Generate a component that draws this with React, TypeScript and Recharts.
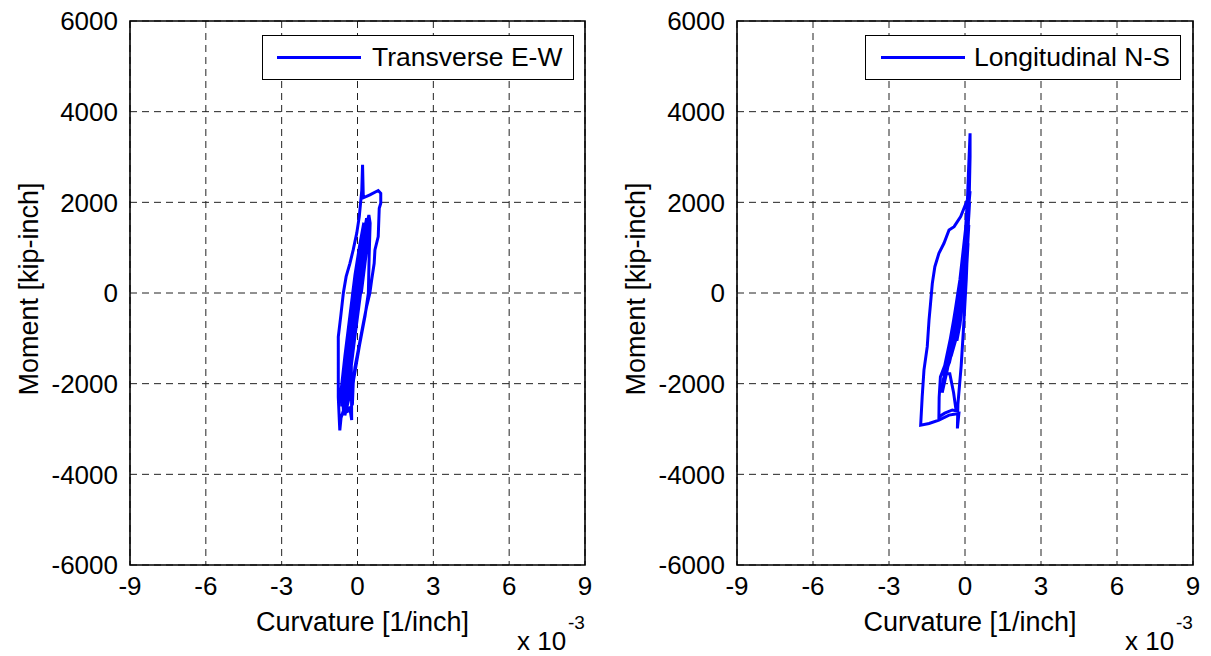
import {
  LineChart,
  Line,
  XAxis,
  YAxis,
  CartesianGrid,
  ReferenceArea,
  Legend,
} from "recharts";

// curvature values are in units of 1e-3 [1/inch]; moment in kip-inch
const transCurv = [
  0, 0.1, 0.18, 0.08, -0.12, -0.25, -0.12, 0.05, 0.22, 0.32, 0.22, 0, -0.22,
  -0.4, -0.28, -0.02, 0.2, 0.36, 0.45, 0.5, 0.46, 0.43, 0.3, 0.08, -0.15,
  -0.35, -0.5, -0.44, -0.3, -0.1, 0.1, 0.28, 0.4, 0.46, 0.38, 0.15, -0.1,
  -0.28, -0.42, -0.48, -0.3, -0.05, 0.15, 0.3, 0.2, -0.05, -0.25, -0.23, -0.3,
  -0.5, -0.65, -0.7, -0.72, -0.76, -0.76, -0.76, -0.66, -0.56, -0.45, -0.3,
  -0.17, -0.03, 0.07, 0.17, 0.2, 0.23, 0.49, 0.82, 0.92, 0.92, 0.86, 0.82,
  0.69, 0.66, 0.56, 0.49, 0.36, 0.23, 0.03, -0.1, -0.17, -0.2, -0.35, -0.55,
  -0.6, -0.45, -0.2, 0, 0.15, 0.3, 0.36, 0.3, 0.1, -0.12, -0.32, -0.48, -0.36,
  -0.1, 0.1, 0.22, 0.05, -0.2, -0.45, -0.62, -0.66, -0.5, -0.3, -0.1, 0.1,
  0.25, 0.15, -0.05, -0.3, -0.5, -0.6, -0.55, -0.4, -0.2, 0, 0.2, 0.35, 0.42,
  0.35, 0.15,
];
const transMoment = [
  0, 450, 800, 350, -400, -900, -450, 250, 950, 1350, 900, 50, -850, -1500,
  -1050, 0, 850, 1500, 1720, 1540, 800, 0, -500, -1150, -1900, -2350, -2700,
  -2450, -1850, -950, -100, 700, 1250, 1650, 1400, 450, -700, -1600, -2200,
  -2400, -1800, -700, 350, 1100, 700, -300, -1200, -2800, -2550, -2500, -2750,
  -3030, -2800, -2300, -1500, -965, -500, 0, 360, 655, 950, 1320, 1685, 2270,
  2826, 2100, 2163, 2260, 2200, 1980, 1870, 1243, 950, 655, 287, 0, -300, -670,
  -1260, -1630, -2000, -2450, -2600, -2650, -2200, -1500, -650, 150, 800, 1450,
  1650, 1250, 350, -650, -1450, -2050, -1700, -650, 250, 650, 0, -1000, -1900,
  -2500, -2200, -1400, -500, 400, 1100, 1550, 1100, 200, -900, -1700, -2300,
  -2600, -2100, -1100, -100, 700, 1300, 1500, 900, 0,
];

const longCurv = [
  0, 0.08, 0.12, 0.04, -0.15, -0.32, -0.2, 0, 0.1, 0.15, 0.07, -0.2, -0.45,
  -0.62, -0.5, -0.2, 0.05, 0.15, 0.18, 0.1, -0.15, -0.45, -0.75, -0.9, -0.78,
  -0.45, -0.1, 0.1, 0.2, 0.15, 0.09, -0.04, -0.17, -0.43, -0.63, -0.83, -1.03,
  -1.19, -1.29, -1.36, -1.42, -1.49, -1.62, -1.69, -1.75, -1.42, -1.03, -0.63,
  -0.24, -0.3, -0.28, -0.15, -0.05, 0.05, 0.12, 0.17, 0.2, 0.2, 0.14, 0.1,
  0.02, -0.2, -0.5, -0.8, -0.97, -1.02, -1.03, -0.8, -0.5, -0.35, -0.45, -0.6,
  -0.83, -0.6, -0.3, -0.02, 0.1, 0.15, 0.05, -0.25, -0.55, -0.72, -0.5, -0.2, 0,
  0.12, 0.17, 0.08, -0.15, -0.4, -0.65, -0.85, -0.9, -0.7, -0.4, -0.1, 0.08,
  0.14, 0.02, -0.3, -0.6, -0.78, -0.6, -0.3, 0, 0.1, -0.1, -0.35, -0.55, -0.35,
  -0.1, 0.05,
];
const longMoment = [
  0, 700, 1100, 600, -400, -1050, -700, 250, 1000, 1500, 1000, -250, -1100,
  -1550, -1250, 0, 900, 1700, 2000, 1550, 400, -700, -1600, -1820, -1650, -600,
  600, 1600, 2250, 2150, 2053, 1870, 1685, 1464, 1390, 1097, 875, 580, 213,
  -227, -596, -1185, -1700, -2290, -2914, -2877, -2803, -2693, -2656, -2987,
  -2450, -1600, -700, 300, 1300, 2200, 3000, 3525, 2700, 2100, 1400, 300, -800,
  -1600, -1848, -2300, -2730, -2650, -2580, -2600, -2200, -1780, -1773, -1250,
  -200, 800, 1500, 1950, 1350, 0, -1000, -1500, -1050, 150, 750, 1700, 2100,
  1500, 300, -700, -1500, -1900, -2200, -1700, -800, 400, 1300, 1800, 1100,
  -300, -1300, -1800, -1500, -500, 600, 1200, 300, -800, -1400, -1000, 0, 400,
];

const xTicks = [-9, -6, -3, 0, 3, 6, 9];
const yTicks = [-6000, -4000, -2000, 0, 2000, 4000, 6000];

const FONT = "'Liberation Sans', Arial, Helvetica, sans-serif";
const BLUE = "#0000ff";

const toRows = (xs: number[], ys: number[]) =>
  xs.map((x, i) => ({ x, y: ys[i] }));

const CurvatureLabel = ({ viewBox }: any) => {
  const { x, y, width } = viewBox;
  const right = x + width;
  return (
    <g fontFamily={FONT} fill="#000">
      <text x={x + width / 2 + 5} y={y + 66} fontSize={27} textAnchor="middle">
        Curvature [1/inch]
      </text>
      <text x={right - 68} y={y + 85} fontSize={26}>
        x 10
      </text>
      <text x={right - 17} y={y + 64} fontSize={19}>
        -3
      </text>
    </g>
  );
};

const MomentLabel = ({ viewBox }: any) => {
  const { x, y, width, height } = viewBox;
  const bx = x + width - 92;
  const by = y + height / 2 - 4;
  return (
    <text
      x={bx}
      y={by}
      transform={`rotate(-90, ${bx}, ${by})`}
      fontFamily={FONT}
      fontSize={27}
      textAnchor="middle"
      fill="#000"
    >
      Moment [kip-inch]
    </text>
  );
};

const LegendBox = ({ name, lineLeft, textGap }: any) => (
  <div
    style={{
      boxSizing: "border-box",
      width: "100%",
      height: "100%",
      border: "1.3px solid #000",
      background: "#fff",
      display: "flex",
      alignItems: "center",
      fontFamily: FONT,
      fontSize: 26.5,
      color: "#000",
    }}
  >
    <div
      style={{
        marginLeft: lineLeft,
        width: 84,
        height: 3,
        background: BLUE,
      }}
    />
    <span style={{ marginLeft: textGap, whiteSpace: "nowrap" }}>{name}</span>
  </div>
);

interface PanelProps {
  rows: { x: number; y: number }[];
  name: string;
  left: number;
  width: number;
  axisWidth: number;
  rightMargin: number;
  legendLeft: number;
  legendWidth: number;
  lineLeft: number;
  textGap: number;
}

function Panel({
  rows,
  name,
  left,
  width,
  axisWidth,
  rightMargin,
  legendLeft,
  legendWidth,
  lineLeft,
  textGap,
}: PanelProps) {
  const tickStyle = { fontSize: 26, fill: "#000", fontFamily: FONT };
  return (
    <div style={{ position: "absolute", left, top: 0 }}>
      <LineChart
        width={width}
        height={656}
        data={rows}
        margin={{ top: 21, right: rightMargin, bottom: 0, left: 0 }}
      >
        <CartesianGrid
          stroke="#222"
          strokeDasharray="7 5"
          strokeWidth={1}
        />
        <XAxis
          dataKey="x"
          type="number"
          domain={[-9, 9]}
          ticks={xTicks}
          allowDataOverflow
          height={91}
          tick={tickStyle}
          tickLine={false}
          tickSize={0}
          tickMargin={12}
          axisLine={false}
          label={(p: any) => <CurvatureLabel viewBox={p.viewBox} />}
        />
        <YAxis
          type="number"
          domain={[-6000, 6000]}
          ticks={yTicks}
          allowDataOverflow
          width={axisWidth}
          tick={tickStyle}
          tickLine={false}
          tickSize={0}
          tickMargin={12}
          axisLine={false}
          label={(p: any) => <MomentLabel viewBox={p.viewBox} />}
        />
        <ReferenceArea
          x1={-9}
          x2={9}
          y1={-6000}
          y2={6000}
          fill="none"
          fillOpacity={0}
          stroke="#000"
          strokeWidth={1.6}
        />
        <Line
          dataKey="y"
          name={name}
          type="linear"
          stroke={BLUE}
          strokeWidth={3}
          dot={false}
          isAnimationActive={false}
        />
        <Legend
          layout="horizontal"
          verticalAlign="middle"
          align="center"
          wrapperStyle={{
            top: 35,
            left: legendLeft,
            width: legendWidth,
            height: 45,
          }}
          content={() => (
            <LegendBox name={name} lineLeft={lineLeft} textGap={textGap} />
          )}
        />
      </LineChart>
    </div>
  );
}

export default function App() {
  return (
    <div
      style={{
        position: "absolute",
        left: 0,
        top: 0,
        width: 1211,
        height: 656,
        background: "#fff",
      }}
    >
      <Panel
        rows={toRows(transCurv, transMoment)}
        name="Transverse E-W"
        left={0}
        width={605}
        axisWidth={130}
        rightMargin={20}
        legendLeft={262}
        legendWidth={312}
        lineLeft={14}
        textGap={11}
      />
      <Panel
        rows={toRows(longCurv, longMoment)}
        name="Longitudinal N-S"
        left={605}
        width={606}
        axisWidth={132}
        rightMargin={18}
        legendLeft={260}
        legendWidth={316}
        lineLeft={15}
        textGap={9}
      />
    </div>
  );
}
